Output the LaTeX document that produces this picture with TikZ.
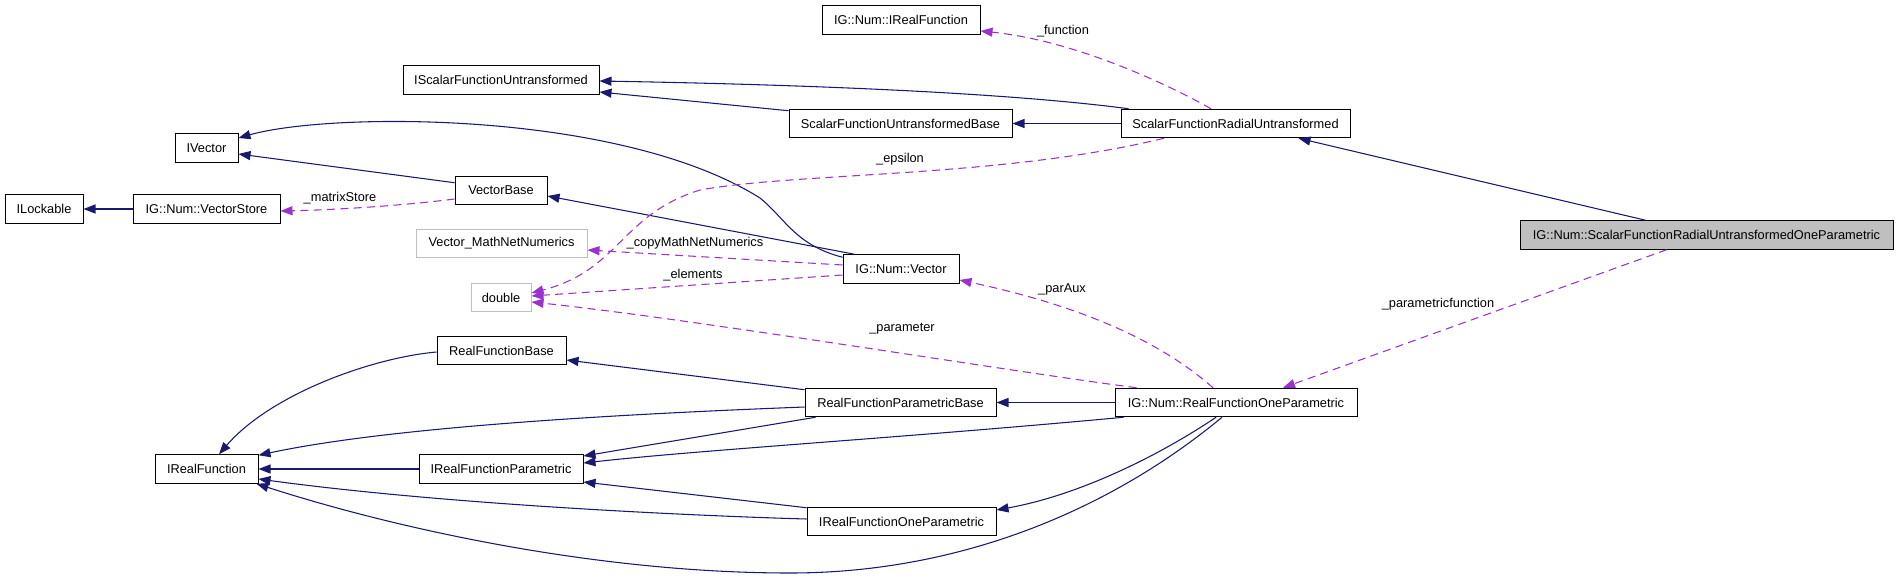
\documentclass[tikz,border=0pt]{standalone}
\usepackage{fontspec}
\setmainfont{Liberation Sans}
\usetikzlibrary{arrows.meta,calc}
\definecolor{navy}{HTML}{191970}
\definecolor{orchid}{HTML}{9A32CD}
\definecolor{lgray}{HTML}{BFBFBF}

\begin{document}
\begin{tikzpicture}[x=.75pt,y=-.75pt,font=\fontsize{9.6}{11}\selectfont,
cls/.style={draw=black,line width=.75pt,minimum height=21.4pt,inner sep=1pt,fill=white},
ext/.style={cls,draw=lgray},
inh/.style={-{Triangle[length=9pt,width=6.8pt]},navy,line width=.8pt},
use/.style={-{Triangle[length=9pt,width=6.8pt]},orchid,line width=.8pt,dash pattern=on 6pt off 4pt},
lbl/.style={inner sep=0pt}]
\useasboundingbox (0,0) rectangle (1899,578);
\node[cls,minimum width=118.5pt] (irfig) at (901,20){IG::Num::IRealFunction};
\node[cls,minimum width=147pt] (isfu) at (501,80){IScalarFunctionUntransformed};
\node[cls,minimum width=171.75pt] (sfru) at (1235.5,123.5){ScalarFunctionRadialUntransformed};
\node[cls,minimum width=167.25pt] (sfub) at (900.5,123.5){ScalarFunctionUntransformedBase};
\node[cls,minimum width=47.25pt] (ivector) at (206.5,148){IVector};
\node[cls,minimum width=69pt] (vectorbase) at (501,190.5){VectorBase};
\node[cls,minimum width=58.5pt] (ilockable) at (44,209){ILockable};
\node[cls,minimum width=110.25pt] (vectorstore) at (206.5,209){IG::Num::VectorStore};
\node[ext,minimum width=128.25pt] (vmath) at (501.5,243.5){Vector\_MathNetNumerics};
\node[cls,minimum width=87pt] (vector) at (901,269){IG::Num::Vector};
\node[ext,minimum width=45pt] (double) at (501,297.5){double};
\node[cls,fill=lgray,minimum width=279.75pt] (sfruop) at (1706.5,235){IG::Num::ScalarFunctionRadialUntransformedOneParametric};
\node[cls,minimum width=96.75pt] (rfbase) at (501.5,350.5){RealFunctionBase};
\node[cls,minimum width=143.25pt] (rfpbase) at (900.5,402.5){RealFunctionParametricBase};
\node[cls,minimum width=181.5pt] (rfop) at (1236,402.5){IG::Num::RealFunctionOneParametric};
\node[cls,minimum width=77.25pt] (irf) at (206.5,469){IRealFunction};
\node[cls,minimum width=123pt] (irfp) at (501,469){IRealFunctionParametric};
\node[cls,minimum width=141.75pt] (irfop) at (901.5,521.5){IRealFunctionOneParametric};
\draw[inh] ($(sfru.north west)+(8,0)$) .. controls (1040,97) and (880,86) .. ($(isfu.east)+(0,1)$);
\draw[inh] ($(sfub.north west)+(0,2)$) -- ($(isfu.east)+(0,12)$);
\draw[inh] (sfru.west) -- (sfub.east);
\draw[inh] ($(sfruop.north west)+(126,0)$) -- ($(sfru.south east)+(-52,0)$);
\draw[inh] ($(vector.north west)+(0,3)$) .. controls (795,245) and (785,218) .. (760,198) .. controls (620,110) and (330,112) .. ($(ivector.east)+(0,-10)$);
\draw[inh] ($(vector.north west)+(12,0)$) -- ($(vectorbase.east)+(0,5.5)$);
\draw[inh] ($(vectorbase.north west)+(0,7)$) -- ($(ivector.east)+(0,6)$);
\draw[inh] (vectorstore.west) -- (ilockable.east);
\draw[inh] ($(rfbase.west)+(0,1.5)$) .. controls (370,358) and (270,395) .. ($(irf.north)+(12.5,0)$);
\draw[inh] ($(rfpbase.north west)+(0,2)$) -- ($(rfbase.east)+(0,9.5)$);
\draw[inh] ($(rfpbase.west)+(0,4.5)$) .. controls (650,413) and (400,425) .. ($(irf.north east)+(0,1)$);
\draw[inh] ($(rfpbase.south west)+(11,0)$) -- ($(irfp.east)+(0,-13)$);
\draw[inh] (irfp.west) -- (irf.east);
\draw[inh] ($(irfop.west)+(0,-2.5)$) .. controls (700,516) and (450,505) .. ($(irf.east)+(0,10)$);
\draw[inh] ($(irfop.north west)+(0,1)$) -- ($(irfp.east)+(0,13)$);
\draw[inh] (rfop.west) -- (rfpbase.east);
\draw[inh] ($(rfop.south west)+(9,0)$) .. controls (900,438) and (700,450) .. ($(irfp.east)+(0,-6)$);
\draw[inh] ($(rfop.south)+(-20,0)$) .. controls (1160,455) and (1080,495) .. ($(irfop.east)+(0,-11.5)$);
\draw[inh] ($(rfop.south)+(-14,0)$) .. controls (1110,510) and (960,573) .. (790,573) .. controls (600,573) and (400,530) .. ($(irf.south east)+(-2,0)$);
\draw[use] ($(sfru.north)+(-24.5,0)$) .. controls (1160,80) and (1070,40) .. ($(irfig.east)+(0,11)$);
\draw[use] ($(sfru.south)+(-71.5,0)$) .. controls (1000,178) and (800,172) .. (700,190) .. controls (620,215) and (620,270) .. ($(double.east)+(0,-4.5)$);
\draw[use] ($(vector.west)+(0,6)$) -- ($(double.east)+(0,-1.5)$);
\draw[use] ($(vector.west)+(0,-4)$) -- ($(vmath.east)+(0,6.5)$);
\draw[use] ($(vectorbase.west)+(0,8.5)$) .. controls (400,206) and (330,210) .. ($(vectorstore.east)+(0,2)$);
\draw[use] ($(rfop.north)+(-23,0)$) .. controls (1170,350) and (1100,310) .. ($(vector.east)+(0,11)$);
\draw[use] ($(rfop.north west)+(22,0)$) .. controls (1000,370) and (700,320) .. ($(double.east)+(0,4.5)$);
\draw[use] ($(sfruop.south west)+(147,0)$) -- ($(rfop.north)+(47,0)$);
\node[lbl] (lfunction) at (1063,31){\_function};
\node[lbl] (lepsilon) at (900,159){\_epsilon};
\node[lbl] (lmatrix) at (340,198){\_matrixStore};
\node[lbl] (lcopy) at (695,243){\_copyMathNetNumerics};
\node[lbl] (lelements) at (693,275){\_elements};
\node[lbl] (lparaux) at (1062,289){\_parAux};
\node[lbl] (lparameter) at (902,329){\_parameter};
\node[lbl] (lparametric) at (1438,304){\_parametricfunction};
\end{tikzpicture}
\end{document}
